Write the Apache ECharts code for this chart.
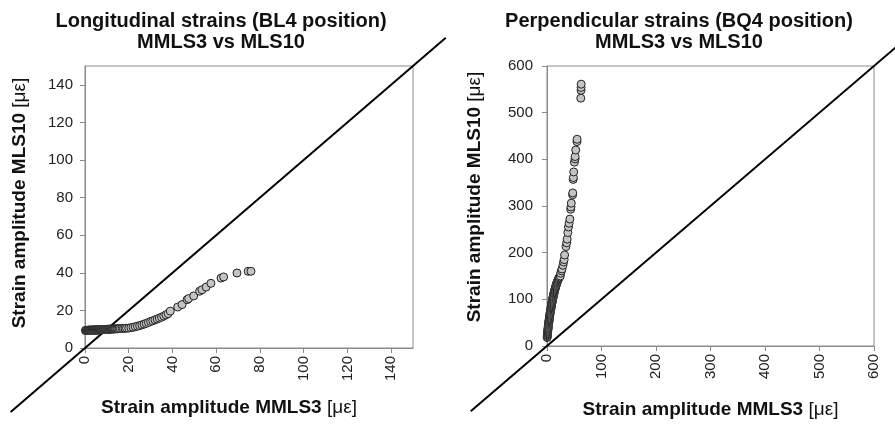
<!DOCTYPE html>
<html>
<head>
<meta charset="utf-8">
<script src="https://cdn.jsdelivr.net/npm/echarts@6/dist/echarts.min.js"></script>
<style>
  html, body { margin: 0; padding: 0; background: #fff; }
  #chart { width: 895px; height: 424px; }
</style>
</head>
<body>
<div id="chart"></div>
<script>
// BL4 longitudinal: [MMLS3, MLS10] strain amplitudes (µε)
const longitudinalPoints = [
  [0.2, 9.3], [0.4, 9.4], [0.6, 9.3], [0.8, 9.4], [1, 9.4], [1.2, 9.3], [1.4, 9.5], [1.6, 9.4],
  [1.8, 9.5], [2, 9.4], [2.2, 9.5], [2.4, 9.4], [2.6, 9.5], [2.8, 9.5], [3, 9.4], [3.2, 9.5],
  [3.4, 9.5], [3.6, 9.6], [3.8, 9.5], [4, 9.5], [4.2, 9.6], [4.4, 9.5], [4.6, 9.6], [4.8, 9.5],
  [5, 9.6], [5.2, 9.6], [5.4, 9.5], [5.6, 9.6], [5.8, 9.6], [6, 9.7], [6.2, 9.6], [6.4, 9.7],
  [6.6, 9.6], [6.8, 9.7], [7, 9.7], [7.2, 9.6], [7.4, 9.7], [7.6, 9.7], [7.8, 9.8], [8, 9.7],
  [8.3, 9.8], [8.6, 9.8], [8.9, 9.8], [9.2, 9.9], [9.5, 9.8], [9.8, 9.9], [10.1, 9.9],
  [10.4, 10], [10.7, 9.9], [11, 10], [11.3, 10], [11.6, 10], [12, 10.1], [12.4, 10.1],
  [12.8, 10.1], [13.2, 10.1], [13.6, 10.2], [14, 10.2], [14.5, 10.2], [15, 10.2], [15.6, 10.3],
  [16.2, 10.3], [17, 10.4], [17.6, 10.4], [18.3, 10.5], [19, 10.5], [20, 10.6], [21, 10.8],
  [22, 11], [23, 11.3], [24, 11.6], [25, 11.9], [26, 12.3], [27, 12.7], [28, 13.1], [29, 13.6],
  [30, 14.1], [31, 14.5], [32, 15], [33, 15.4], [34, 15.9], [35, 16.4], [36, 17], [37, 17.6],
  [38, 18.3], [39, 19.6], [42.4, 21.8], [44.4, 23.1], [46.7, 25.7], [47.4, 26.3], [49.7, 27.7],
  [52.4, 30.2], [53.5, 31], [55.4, 32.4], [57.6, 34.4], [62.2, 37.2], [63.4, 37.8],
  [69.5, 39.9], [74.6, 40.8], [75.9, 40.8]
]

// BQ4 perpendicular: [MMLS3, MLS10] strain amplitudes (µε)
const perpendicularPoints = [
  [0.3, 18], [0.5, 20], [0.6, 22], [0.8, 24], [0.9, 26], [1.1, 28], [1.2, 30], [1.4, 32],
  [1.6, 34], [1.8, 36], [2, 38], [2.2, 40], [2.4, 42], [2.6, 44], [2.8, 46], [3, 48],
  [3.2, 50], [3.4, 52], [3.6, 54], [3.9, 56], [4.1, 58], [4.4, 60], [4.6, 62], [4.9, 64],
  [5.1, 66], [5.4, 68], [5.6, 70], [5.9, 72], [6.2, 74], [6.5, 76], [6.8, 78], [7.1, 80],
  [7.4, 82], [7.7, 84], [8, 86], [8.3, 88], [8.6, 90], [9, 92], [9.3, 94], [9.6, 96],
  [10, 98], [10.3, 100], [10.7, 102], [11, 104], [11.4, 106], [11.8, 108], [12.2, 110],
  [12.6, 112], [13, 114], [13.4, 116], [13.8, 118], [14.3, 120], [14.7, 122], [15.2, 124],
  [15.7, 126], [16.2, 128], [16.7, 130], [17.2, 132], [17.8, 134], [18.4, 136], [19, 138],
  [19.7, 140], [20.4, 142], [21.2, 144], [22, 146], [23, 148], [24.4, 150], [25, 156],
  [26.5, 161], [27.5, 165], [29.3, 173], [30.5, 180], [31.5, 185], [32.3, 195], [34.8, 213],
  [36, 221], [37, 229], [38.2, 243], [39.4, 255], [40.5, 263], [42, 272], [43.5, 293],
  [44, 298], [44.6, 306], [47, 324], [47.2, 328], [48, 357], [48.4, 361], [49, 373],
  [50.3, 394], [51.5, 401], [51.6, 406], [52.7, 420], [55, 438], [55.2, 443], [62, 531],
  [62.5, 548], [62.5, 554], [62.7, 561]
]

// 1:1 reference lines [x0, y0, x1, y1], running past the plot edges
const equalityLineLeft = [[-34, -34, 165, 165]]
const equalityLineRight = [[-140, -140, 660, 660]]

const titleLeft = 'Longitudinal strains (BL4 position)\nMMLS3 vs MLS10'
const titleRight = 'Perpendicular strains (BQ4 position)\nMMLS3 vs MLS10'
const xName = 'Strain amplitude MMLS3 {u|[με]}'
const yName = 'Strain amplitude MLS10 {u|[με]}'

const FONT = "'Liberation Sans', Arial, sans-serif"
const GRAY = '#8a8a8a'

const nameStyle = (padding) => ({
  fontFamily: FONT, fontSize: 19, fontWeight: 'bold', color: '#111', padding,
  rich: { u: { fontFamily: FONT, fontSize: 19, fontWeight: 'normal', color: '#111' } },
})

function valueAxis(kind, idx, max, interval, opts) {
  return {
    type: 'value',
    gridIndex: idx,
    min: 0, max, interval,
    name: kind === 'x' ? xName : yName,
    nameLocation: 'middle',
    nameGap: opts.nameGap,
    nameTextStyle: nameStyle(opts.namePadding),
    axisLine: { show: true, onZero: false, lineStyle: { color: GRAY, width: 1 } },
    axisTick: { show: true, inside: false, length: 5, lineStyle: { color: GRAY } },
    splitLine: { show: false },
    axisLabel: {
      color: '#222', fontFamily: FONT, fontSize: 15,
      margin: opts.labelMargin, rotate: kind === 'x' ? 90 : 0,
      showMaxLabel: opts.showMax, showMinLabel: true,
    },
  }
}

const scatterStyle = {
  symbol: 'circle', symbolSize: 8,
  itemStyle: { color: '#c4c4c4', borderColor: '#222', borderWidth: 1, opacity: 1 },
}

// draws the y = x line between the two end points, not clipped to the grid
function equalityLine(xAxisIndex, data) {
  return {
    type: 'custom', xAxisIndex, yAxisIndex: xAxisIndex, data, clip: false, silent: true, z: 1,
    renderItem: (params, api) => {
      const p0 = api.coord([api.value(0), api.value(1)])
      const p1 = api.coord([api.value(2), api.value(3)])
      return {
        type: 'line',
        shape: { x1: p0[0], y1: p0[1], x2: p1[0], y2: p1[1] },
        style: { stroke: '#000', lineWidth: 2 },
      }
    },
  }
}

const chart = echarts.init(document.getElementById('chart'), null, { renderer: 'canvas' })
chart.setOption({
  animation: false,
  backgroundColor: '#fff',
  title: [
    { text: titleLeft, left: 221, top: 11, textAlign: 'center', padding: 0,
      textStyle: { fontFamily: FONT, fontSize: 20, fontWeight: 'bold', color: '#111', lineHeight: 21 } },
    { text: titleRight, left: 679, top: 11, textAlign: 'center', padding: 0,
      textStyle: { fontFamily: FONT, fontSize: 20, fontWeight: 'bold', color: '#111', lineHeight: 21 } },
  ],
  grid: [
    { left: 85, top: 66, width: 328, height: 282, show: true, borderColor: GRAY, borderWidth: 1 },
    { left: 547, top: 66, width: 327, height: 282, show: true, borderColor: GRAY, borderWidth: 1 },
  ],
  xAxis: [
    valueAxis('x', 0, 150, 20, { nameGap: 50, namePadding: [0, 40, 0, 0], labelMargin: 8, showMax: false }),
    valueAxis('x', 1, 600, 100, { nameGap: 54, namePadding: [0, 0, 0, 0], labelMargin: 8, showMax: true }),
  ],
  yAxis: [
    valueAxis('y', 0, 150, 20, { nameGap: 56, namePadding: [0, 0, 0, 8], labelMargin: 12, showMax: false }),
    valueAxis('y', 1, 600, 100, { nameGap: 63, namePadding: [0, 0, 0, 18], labelMargin: 14, showMax: true }),
  ],
  series: [
    equalityLine(0, equalityLineLeft),
    equalityLine(1, equalityLineRight),
    { type: 'scatter', ...scatterStyle, xAxisIndex: 0, yAxisIndex: 0, data: longitudinalPoints, z: 2 },
    { type: 'scatter', ...scatterStyle, xAxisIndex: 1, yAxisIndex: 1, data: perpendicularPoints, z: 2 },
  ],
})
</script>
</body>
</html>
